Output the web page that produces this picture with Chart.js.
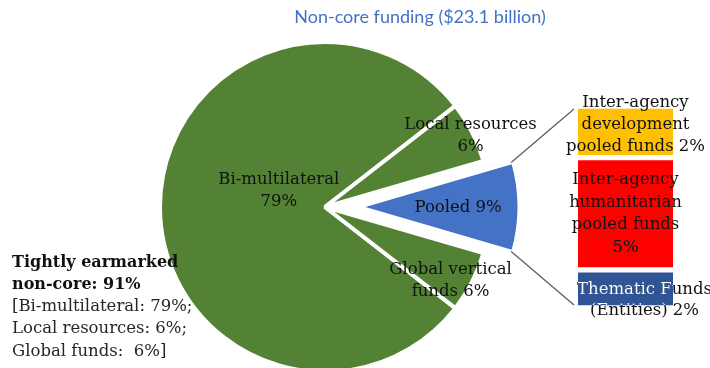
<!DOCTYPE html>
<html>
<head>
<meta charset="utf-8">
<script src="https://cdn.jsdelivr.net/npm/chart.js@4.4.1/dist/chart.umd.min.js"></script>
<style>
  body { margin: 0; background: #fff; }
  #wrap { position: relative; width: 710px; height: 368px; }
  #wrap canvas { position: absolute; left: 0; top: 0; }
</style>
</head>
<body>
<div id="wrap">
  <canvas id="pieMain" width="710" height="368"></canvas>
  <canvas id="piePooled" width="710" height="368"></canvas>
  <canvas id="pooledBar" width="710" height="368"></canvas>
</div>
<script>
// non-core funding split (% of $23.1 billion)
const sliceNames = ['Bi-multilateral', 'Local resources', 'Pooled', 'Global vertical funds'];
const sliceShares = [79, 6, 9, 6];
const sliceColors = ['#548235', '#548235', '#4472C4', '#548235'];
const earmarkedSlices = ['Bi-multilateral', 'Local resources', 'Global vertical funds'];

// breakdown of the pooled slice, top to bottom
const poolNames = ['Inter-agency development pooled funds', 'Inter-agency humanitarian pooled funds', 'Thematic Funds (Entities)'];
const poolShares = [2.3, 5.0, 1.7];
const poolColors = ['#FFC000', '#FF0000', '#2F5597'];

const titleText = 'Non-core funding ($23.1 billion)';

const SERIF = '"DejaVu Serif", serif';
const sum = a => a.reduce((s, v) => s + v, 0);
const POOLED = sliceNames.indexOf('Pooled');
const total = sum(sliceShares);
// turn the pie so the pooled slice points straight right
const rotation = 90 - (sum(sliceShares.slice(0, POOLED)) + sliceShares[POOLED] / 2) / total * 360;

function pieConfig(show, padding, radius) {
  return {
    type: 'pie',
    data: {
      labels: sliceNames,
      datasets: [{
        data: sliceShares,
        backgroundColor: sliceColors.map((c, i) => show(i) ? c : 'rgba(0,0,0,0)'),
        borderColor: '#ffffff',
        borderWidth: sliceNames.map((n, i) => show(i) ? 4 : 0),
        clip: false
      }]
    },
    options: {
      responsive: false,
      animation: false,
      rotation: rotation,
      radius: radius,
      layout: { padding: padding },
      plugins: { legend: { display: false }, tooltip: { enabled: false } }
    }
  };
}

const pieMain = new Chart(document.getElementById('pieMain'),
  pieConfig(i => i !== POOLED, { left: 0, right: 60, top: 46, bottom: 0 }, 165));
// pooled slice pulled out to the right
const piePooled = new Chart(document.getElementById('piePooled'),
  pieConfig(i => i === POOLED, { left: 6, right: 0, top: 46, bottom: 0 }, 161.5));

const pieLabelSpots = [
  { r: 0.28, dx: 0, dy: -16 },
  { r: 0.99, dx: 0, dy: 3 },
  { r: 0.62, dx: 0, dy: 1 },
  { r: 0.99, dx: -20, dy: 0 }
];
const poolLabelSpots = [
  { dx: 10, dy: -7, lh: 22 },
  { dx: 0, dy: 0, lh: 22.7 },
  { dx: 19, dy: 11, lh: 21 }
];

function sliceLabelLines(i) {
  const pct = sliceShares[i] + '%';
  if (i === POOLED) return [sliceNames[i] + ' ' + pct];
  if (sliceNames[i] === 'Global vertical funds') return ['Global vertical', 'funds ' + pct];
  return [sliceNames[i], pct];
}

function poolLabelLines(i) {
  const pct = Math.round(poolShares[i]) + '%';
  if (i === 0) return ['Inter-agency', 'development', 'pooled funds ' + pct];
  if (i === 1) return ['Inter-agency', 'humanitarian', 'pooled funds', pct];
  return ['Thematic Funds', '(Entities) ' + pct];
}

function drawBlock(ctx, lines, cx, cy, lh, color) {
  ctx.fillStyle = color;
  const top = cy - (lines.length - 1) * lh / 2;
  lines.forEach((t, k) => ctx.fillText(t, cx, top + k * lh));
}

const annotations = {
  id: 'annotations',
  afterDraw(chart) {
    const ctx = chart.ctx;
    const bars = poolNames.map(n => chart.getDatasetMeta(chart.data.datasets.findIndex(d => d.label === n)).data[0]);
    const gap = 3;

    // connectors from the pulled-out slice to the stacked bar
    const arc = piePooled.getDatasetMeta(0).data[POOLED];
    const r = arc.outerRadius - 2;
    const barLeft = bars[0].x - bars[0].width / 2 - 4;
    ctx.save();
    ctx.strokeStyle = '#595959';
    ctx.lineWidth = 1.2;
    ctx.beginPath();
    ctx.moveTo(arc.x + Math.cos(arc.startAngle) * r, arc.y + Math.sin(arc.startAngle) * r);
    ctx.lineTo(barLeft, bars[0].y + gap);
    ctx.moveTo(arc.x + Math.cos(arc.endAngle) * r, arc.y + Math.sin(arc.endAngle) * r);
    ctx.lineTo(barLeft, bars[bars.length - 1].base - gap);
    ctx.stroke();

    // slice labels
    ctx.font = '16.5px ' + SERIF;
    ctx.textAlign = 'center';
    ctx.textBaseline = 'middle';
    sliceShares.forEach((v, i) => {
      const a = (i === POOLED ? piePooled : pieMain).getDatasetMeta(0).data[i];
      const mid = (a.startAngle + a.endAngle) / 2;
      const s = pieLabelSpots[i];
      const cx = a.x + Math.cos(mid) * a.outerRadius * s.r + s.dx;
      const cy = a.y + Math.sin(mid) * a.outerRadius * s.r + s.dy;
      drawBlock(ctx, sliceLabelLines(i), cx, cy, 22, '#111111');
    });

    // bar segment labels
    bars.forEach((b, i) => {
      const s = poolLabelSpots[i];
      const cx = b.x + s.dx;
      const cy = (b.y + b.base) / 2 + s.dy;
      drawBlock(ctx, poolLabelLines(i), cx, cy, s.lh, '#111111');
      if (i === bars.length - 1) {
        // white where the text sits on the dark bar
        ctx.save();
        ctx.beginPath();
        ctx.rect(b.x - b.width / 2, b.y + gap, b.width, b.base - b.y - 2 * gap);
        ctx.clip();
        drawBlock(ctx, poolLabelLines(i), cx, cy, s.lh, '#ffffff');
        ctx.restore();
      }
    });

    // tightly earmarked summary
    const earmarked = sum(earmarkedSlices.map(n => sliceShares[sliceNames.indexOf(n)]));
    const pctOf = n => sliceShares[sliceNames.indexOf(n)] + '%';
    ctx.textAlign = 'left';
    ctx.fillStyle = '#111111';
    ctx.font = 'bold 16px ' + SERIF;
    ctx.fillText('Tightly earmarked', 12, 263);
    ctx.fillText('non-core: ' + earmarked + '%', 12, 285);
    ctx.font = '16.5px ' + SERIF;
    ctx.fillStyle = '#262626';
    ctx.fillText('[Bi-multilateral: ' + pctOf('Bi-multilateral') + ';', 12, 307);
    ctx.fillText('Local resources: ' + pctOf('Local resources') + ';', 12, 329);
    ctx.fillText('Global funds:  ' + pctOf('Global vertical funds') + ']', 12, 352);

    // title
    ctx.font = '18px Lato, sans-serif';
    ctx.textAlign = 'center';
    ctx.textBaseline = 'alphabetic';
    ctx.fillStyle = '#4472C4';
    ctx.fillText(titleText, 420, 23);
    ctx.restore();
  }
};

new Chart(document.getElementById('pooledBar'), {
  type: 'bar',
  data: {
    labels: ['Pooled'],
    datasets: poolNames.map((n, i) => ({
      label: n,
      data: [poolShares[i]],
      backgroundColor: poolColors[i],
      borderColor: '#ffffff',
      borderWidth: { top: 3, bottom: 3, left: 0, right: 0 },
      borderSkipped: false,
      barPercentage: 1,
      categoryPercentage: 1
    })).reverse()
  },
  options: {
    responsive: false,
    animation: false,
    layout: { padding: { left: 578, right: 37, top: 106, bottom: 60 } },
    scales: {
      x: { stacked: true, display: false },
      y: { stacked: true, display: false, min: 0, max: sum(poolShares) }
    },
    plugins: { legend: { display: false }, tooltip: { enabled: false } }
  },
  plugins: [annotations]
});
</script>
</body>
</html>
